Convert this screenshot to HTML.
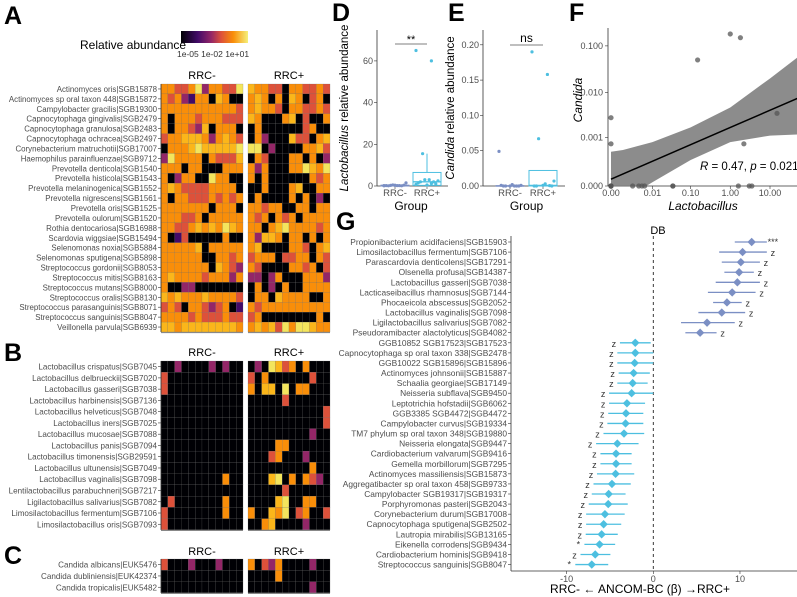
<!DOCTYPE html>
<html><head><meta charset="utf-8">
<style>
body{margin:0;background:#fff;}
svg{display:block;font-family:"Liberation Sans",sans-serif;}
.tl{font-size:8px;fill:#4d4d4d;}
.tk{font-size:9px;fill:#4d4d4d;}
.at{font-size:12px;fill:#000;}
.pl{font-size:25px;font-weight:bold;fill:#000;}
</style></head>
<body>
<svg id="fig" width="797" height="597" viewBox="0 0 797 597">
<defs>
<linearGradient id="inf" x1="0" x2="1" y1="0" y2="0">
<stop offset="0" stop-color="#000004"/><stop offset="0.25" stop-color="#420a68"/><stop offset="0.45" stop-color="#932667"/><stop offset="0.6" stop-color="#dd513a"/><stop offset="0.78" stop-color="#f98e09"/><stop offset="1" stop-color="#f5f07a"/>
</linearGradient>
<clipPath id="fclip"><rect x="608" y="28" width="189" height="158"/></clipPath>
</defs>
<text class="pl" x="4" y="24">A</text>
<text class="pl" x="4" y="361">B</text>
<text class="pl" x="4" y="564">C</text>
<text class="pl" x="332" y="21">D</text>
<text class="pl" x="448" y="21">E</text>
<text class="pl" x="569" y="21">F</text>
<text class="pl" x="336" y="230">G</text>
<g>
<text x="80" y="49" style="font-size:12px">Relative abundance</text>
<rect x="181" y="31" width="67" height="12" fill="url(#inf)"/>
<text x="177" y="57" style="font-size:8.5px;fill:#333">1e-05 1e-02 1e+01</text>
</g>
<g id="gA"></g><g id="gB"></g><g id="gC"></g><g id="gD"></g><g id="gE"></g><g id="gF"></g><g id="gG"></g>
</svg>
<script>
// ---------- data ----------
const colorLevels = ["#000004","#420a68","#932667","#dd513a","#f98e09","#fbb61a","#f3e55d"];
const taxaA = ["Actinomyces oris|SGB15878","Actinomyces sp oral taxon 448|SGB15872","Campylobacter gracilis|SGB19300","Capnocytophaga gingivalis|SGB2479","Capnocytophaga granulosa|SGB2483","Capnocytophaga ochracea|SGB2497","Corynebacterium matruchotii|SGB17007","Haemophilus parainfluenzae|SGB9712","Prevotella denticola|SGB1540","Prevotella histicola|SGB1543","Prevotella melaninogenica|SGB1552","Prevotella nigrescens|SGB1561","Prevotella oris|SGB1525","Prevotella oulorum|SGB1520","Rothia dentocariosa|SGB16988","Scardovia wiggsiae|SGB15494","Selenomonas noxia|SGB5884","Selenomonas sputigena|SGB5898","Streptococcus gordonii|SGB8053","Streptococcus mitis|SGB8163","Streptococcus mutans|SGB8000","Streptococcus oralis|SGB8130","Streptococcus parasanguinis|SGB8071","Streptococcus sanguinis|SGB8047","Veillonella parvula|SGB6939"];
const levelsA = ["443346244336544330443343","434214405400454040540340","444444444443454430443343","404443444333540004503004","404432504440040000003400","344555424543042000533045","044456555556660200004453","264444043335043000440402","444044000444424000446546","402440064400404000000434","454333344440004000450044","404433343434040000404020","444444404440443440044044","444334044444434043404444","443345454654440456444434","401300000400425540440404","444445044444450000443045","444444004434344403344043","444444405432430000443403","454444344424220240004442","400220000000040204004444","545444544443044054444004","343044323401434444444444","444434333433340000000040","554555555554454536466544"];
const taxaB = ["Lactobacillus crispatus|SGB7045","Lactobacillus delbrueckii|SGB7020","Lactobacillus gasseri|SGB7038","Lactobacillus harbinensis|SGB7136","Lactobacillus helveticus|SGB7048","Lactobacillus iners|SGB7025","Lactobacillus mucosae|SGB7088","Lactobacillus panis|SGB7094","Lactobacillus timonensis|SGB29591","Lactobacillus ultunensis|SGB7049","Lactobacillus vaginalis|SGB7098","Lentilactobacillus parabuchneri|SGB7217","Ligilactobacillus salivarius|SGB7082","Limosilactobacillus fermentum|SGB7106","Limosilactobacillus oris|SGB7093"];
const levelsB = ["002000020200020653404000","300000000000304000000300","300000000000405506044000","000000000000000003000000","000000000000000000000003","000000000000000000000003","000000000000000000000200","000000000000000044000000","000000000000000340002000","000000000000000000000400","000000000400000560404320","000000000000000003000000","030000000400000056004400","300000000400400546034003","300000000000004500002000"];
const taxaC = ["Candida albicans|EUK5476","Candida dubliniensis|EUK42374","Candida tropicalis|EUK5482"];
const levelsC = ["300020002000403240000200","000000000000000040000000","000000000000000000000200"];

const groups = ["RRC-","RRC+"];
const lactoMinus = [0.1,0.2,0.3,1.5,0.2,0.1,0.4,0.3,0.2,0.1,0.5,0.2];
const lactoPlus = [65,60,15.5,2.5,3,2,1,0.5,1.5,2,3,0.8,1.2];
const lactoBox = [[0,0.15,0.4,1.2],[0.3,2,6.5,15.5]]; // q1, median, q3, upper whisker
const candMinus = [0.049,0,0,0.001,0.002,0,0,0,0.001,0];
const candPlus = [0.19,0.158,0.067,0.007,0.003,0,0,0.001,0,0.0005];
const candBox = [[0,0,0.0005,0.002],[0,0.0008,0.022,0.022]];

const fX = [0,0,0.15,1.0,1.8,60,70,15,2.2,0,0,0.0025,0.004,0.005,0.006,0.035,0.035,1.6,3,3.5,0,0];
const fY = [0.0028,0.0007,0.05,0.18,0.15,0.065,0.007,0.0035,0.0007,0,0,0,0,0,0,0,0,0,0,0,0,0];
const fLineX = [0,70];
const fLineY = [0.00004,0.0085];
const fBandX = [0,0.001,0.01,0.1,1,10,70];
const fBandHi = [0.00044,0.00049,0.00077,0.0017,0.0047,0.02,0.0714];
const fBandLo = [0,0,0.00002,0.00026,0.00077,0.0011,0.00118];
const fYTicks = [0,0.001,0.01,0.1];
const fYTickLabels = ["0.000","0.001","0.010","0.100"];
const fXTicks = [0,0.01,0.1,1,10];
const fXTickLabels = ["0.00","0.01","0.10","1.00","10.00"];

const taxaG = ["Propionibacterium acidifaciens|SGB15903","Limosilactobacillus fermentum|SGB7106","Parascardovia denticolens|SGB17291","Olsenella profusa|SGB14387","Lactobacillus gasseri|SGB7038","Lacticaseibacillus rhamnosus|SGB7144","Phocaeicola abscessus|SGB2052","Lactobacillus vaginalis|SGB7098","Ligilactobacillus salivarius|SGB7082","Pseudoramibacter alactolyticus|SGB4082","GGB10852 SGB17523|SGB17523","Capnocytophaga sp oral taxon 338|SGB2478","GGB10022 SGB15896|SGB15896","Actinomyces johnsonii|SGB15887","Schaalia georgiae|SGB17149","Neisseria subflava|SGB9450","Leptotrichia hofstadii|SGB6062","GGB3385 SGB4472|SGB4472","Campylobacter curvus|SGB19334","TM7 phylum sp oral taxon 348|SGB19880","Neisseria elongata|SGB9447","Cardiobacterium valvarum|SGB9416","Gemella morbillorum|SGB7295","Actinomyces massiliensis|SGB15873","Aggregatibacter sp oral taxon 458|SGB9733","Campylobacter SGB19317|SGB19317","Porphyromonas pasteri|SGB2043","Corynebacterium durum|SGB17008","Capnocytophaga sputigena|SGB2502","Lautropia mirabilis|SGB13165","Eikenella corrodens|SGB9434","Cardiobacterium hominis|SGB9418","Streptococcus sanguinis|SGB8047"];
const betaG = [11.35,10.3,10.1,9.9,9.7,9.1,8.5,7.9,6.2,5.4,-2.08,-2.08,-2.15,-2.27,-2.38,-2.5,-3.04,-3.15,-3.2,-3.38,-4.15,-4.3,-4.3,-4.35,-4.77,-5.15,-5.2,-5.58,-5.73,-5.96,-6.2,-6.7,-7.1];
const loG = [9.4,7.6,7.9,8.2,7.2,6.3,6.9,5.2,3.2,3.7,-3.85,-4.15,-4.15,-4.0,-4.15,-5.1,-5.1,-5.2,-5.3,-5.75,-6.6,-6.1,-6.1,-6.5,-6.9,-7.1,-7.45,-7.75,-7.75,-7.8,-7.95,-8.4,-9.0];
const hiG = [13.1,13.1,12.3,11.6,12.3,11.8,10.2,10.6,9.4,7.3,-0.3,0,0,-0.4,-0.65,0,-0.95,-1.15,-1.15,-1.05,-1.7,-2.5,-2.5,-2.2,-2.6,-3.2,-2.95,-3.3,-3.7,-4.1,-4.4,-4.95,-5.2];
const sigG = ["***","z","z","z","z","z","z","z","z","z","z","z","z","z","z","z","z","z","z","z","z","z","z","z","z","z","z","z","z","z","*","z","*"];
const gTicks = [-10,0,10];

// ---------- helpers ----------
const NS = "http://www.w3.org/2000/svg";
function mk(parent, tag, attrs, txt){
  const e = document.createElementNS(NS, tag);
  for (const k in attrs) e.setAttribute(k, attrs[k]);
  if (txt !== undefined) e.textContent = txt;
  parent.appendChild(e);
  return e;
}

// ---------- heatmaps ----------
function heatmap(g, taxa, levels, top, rowH, headerY, name, fs){
  const x1 = 161, x2 = 248, cw = 6.83;
  groups.forEach((gr, gi) => {
    const hx = (gi ? x2 : x1) + 41;
    const h = mk(g, "text", {x:hx, y:headerY, "text-anchor":"middle", style:"font-size:11px"}, gr);
    
    
  });
  taxa.forEach((t, r) => {
    const y = top + r * rowH;
    const lab = mk(g, "text", {x:157, y:y + rowH/2 + 3, "text-anchor":"end", class:"tl", style:"font-size:"+fs+"px"}, t);
    
    
    mk(g, "line", {x1:158, x2:161, y1:y+rowH/2, y2:y+rowH/2, stroke:"#333", "stroke-width":0.6});
    const row = levels[r];
    for (let c = 0; c < 24; c++){
      const x = (c < 12 ? x1 + c*cw : x2 + (c-12)*cw);
      const cell = mk(g, "rect", {x:x, y:y, width:cw+0.05, height:rowH+0.05, fill:colorLevels[+row[c]], stroke:"#6a6a6a", "stroke-width":0.2});
      
      
    }
  });
  const bottom = top + taxa.length*rowH;
  mk(g, "line", {x1:161, x2:161, y1:top, y2:bottom, stroke:"#333", "stroke-width":0.8});
  mk(g, "line", {x1:161, x2:243, y1:bottom+0.5, y2:bottom+0.5, stroke:"#888", "stroke-width":1.2});
  mk(g, "line", {x1:248, x2:330, y1:bottom+0.5, y2:bottom+0.5, stroke:"#888", "stroke-width":1.2});
}
heatmap(document.getElementById("gA"), taxaA, levelsA, 84, 9.92, 79, "heatmap-a", 7.9);
heatmap(document.getElementById("gB"), taxaB, levelsB, 361, 11.26, 356, "heatmap-b", 8.1);
heatmap(document.getElementById("gC"), taxaC, levelsC, 559, 11.3, 555, "heatmap-c", 8.1);

// ---------- box plots ----------
const grpCol = ["#7b8fc4","#4dbfe0"];
function boxPanel(g, axX, xs, yScale, ticks, tickLabs, minusPts, plusPts, box, sig, sigY, title, italic, xEnd, name){
  const y0 = 186;
  mk(g, "line", {x1:axX, x2:axX, y1:30, y2:y0, stroke:"#333", "stroke-width":0.8});
  mk(g, "line", {x1:axX, x2:xEnd, y1:y0, y2:y0, stroke:"#333", "stroke-width":0.8});
  ticks.forEach((t, i) => {
    const y = yScale(t);
    mk(g, "line", {x1:axX-3, x2:axX, y1:y, y2:y, stroke:"#333", "stroke-width":0.6});
    const tl = mk(g, "text", {x:axX-4, y:y+3, "text-anchor":"end", class:"tk"}, tickLabs[i]);
    
    
  });
  groups.forEach((gr, gi) => {
    mk(g, "line", {x1:xs[gi], x2:xs[gi], y1:y0, y2:y0+3, stroke:"#333", "stroke-width":0.6});
    const tl = mk(g, "text", {x:xs[gi], y:196, "text-anchor":"middle", class:"tk", style:"font-size:9.5px"}, gr);
    
    
    const b = box[gi];
    mk(g, "line", {x1:xs[gi], x2:xs[gi], y1:yScale(b[2]), y2:yScale(b[3]), stroke:grpCol[gi], "stroke-width":1});
    const bx = mk(g, "rect", {x:xs[gi]-14, y:yScale(b[2]), width:28, height:Math.max(0.5, yScale(b[0])-yScale(b[2])), fill:"none", stroke:grpCol[gi], "stroke-width":1});
    
    
    mk(g, "line", {x1:xs[gi]-14, x2:xs[gi]+14, y1:yScale(b[1]), y2:yScale(b[1]), stroke:grpCol[gi], "stroke-width":1.3});
    const pts = gi ? plusPts : minusPts;
    pts.forEach((v, i) => {
      const off = ((i * 7) % 11 - 5) * 2.2;
      const p = mk(g, "circle", {cx:xs[gi]+off, cy:yScale(v), r:1.6, fill:grpCol[gi]});
      
      
    });
  });
  mk(g, "line", {x1:xs[0], x2:xs[1], y1:sigY, y2:sigY, stroke:"#555", "stroke-width":0.8});
  const s = mk(g, "text", {x:(xs[0]+xs[1])/2, y:sigY-(sig==="ns"?3:1), "text-anchor":"middle", style:"font-size:"+(sig==="ns"?"12px":"11px")}, sig);
  
  
  const gx = mk(g, "text", {x:(xs[0]+xs[1])/2, y:210, "text-anchor":"middle", class:"at"}, "Group");
  
  
  const yt = mk(g, "text", {transform:"translate("+(axX-29)+",108) rotate(-90)", "text-anchor":"middle", class:"at", style:"font-size:11.5px"});
  
  
  mk(yt, "tspan", {"font-style":"italic"}, italic);
  mk(yt, "tspan", {}, title);
}
boxPanel(document.getElementById("gD"), 377, [395,427], v => 186 - v*2.085, [0,20,40,60], ["0","20","40","60"], lactoMinus, lactoPlus, lactoBox, "**", 44, " relative abundance", "Lactobacillus", 448, "panel-d");
boxPanel(document.getElementById("gE"), 483, [510,543], v => 186 - v*706, [0,0.05,0.1,0.15,0.2], ["0.00","0.05","0.10","0.15","0.20"], candMinus, candPlus, candBox, "ns", 45, " relative abundance", "Candida", 565, "panel-e");

// ---------- scatter F ----------
(function(){
  const g = document.getElementById("gF");
  const fx = v => 611 + Math.log10((v + 0.001)/0.001) * 39.75;
  const fy = v => 186 - Math.log10((v + 0.0001)/0.0001) * 46.7;
  mk(g, "line", {x1:608, x2:608, y1:28, y2:186, stroke:"#333", "stroke-width":0.8});
  mk(g, "line", {x1:608, x2:797, y1:186, y2:186, stroke:"#333", "stroke-width":0.8});
  fYTicks.forEach((t, i) => {
    mk(g, "line", {x1:605, x2:608, y1:fy(t), y2:fy(t), stroke:"#333", "stroke-width":0.6});
    const l = mk(g, "text", {x:603, y:fy(t)+3, "text-anchor":"end", class:"tk"}, fYTickLabels[i]);
    
    
  });
  fXTicks.forEach((t, i) => {
    mk(g, "line", {x1:fx(t), x2:fx(t), y1:186, y2:189, stroke:"#333", "stroke-width":0.6});
    const l = mk(g, "text", {x:fx(t), y:196, "text-anchor":"middle", class:"tk"}, fXTickLabels[i]);
    
    
  });
  let d = "";
  fBandX.forEach((x, i) => { d += (i ? "L" : "M") + fx(x) + "," + fy(fBandHi[i]); });
  for (let i = fBandX.length-1; i >= 0; i--) d += "L" + fx(fBandX[i]) + "," + (fBandLo[i] === 0 ? 200 : fy(fBandLo[i]));
  const band = mk(g, "path", {d:d+"Z", fill:"#7f7f7f", "fill-opacity":0.9, "clip-path":"url(#fclip)"});
  
  
  const ln = mk(g, "line", {x1:fx(fLineX[0]), y1:fy(fLineY[0]), x2:fx(fLineX[1]), y2:fy(fLineY[1]), stroke:"#000", "stroke-width":1.5});
  
  
  fX.forEach((x, i) => {
    const p = mk(g, "circle", {cx:fx(x), cy:fy(fY[i]), r:2.6, fill:"#555", "fill-opacity":0.75});
    
    
  });
  const r = mk(g, "text", {x:700, y:170, style:"font-size:11.5px"});
  
  
  mk(r, "tspan", {"font-style":"italic"}, "R");
  mk(r, "tspan", {}, " = 0.47, ");
  mk(r, "tspan", {"font-style":"italic"}, "p");
  mk(r, "tspan", {}, " = 0.021");
  const xt = mk(g, "text", {x:703, y:210, "text-anchor":"middle", class:"at", "font-style":"italic"}, "Lactobacillus");
  
  
  const yt = mk(g, "text", {transform:"translate(582,100) rotate(-90)", "text-anchor":"middle", class:"at", "font-style":"italic"}, "Candida");
  
  
})();

// ---------- forest plot G ----------
(function(){
  const g = document.getElementById("gG");
  const gx = v => 653.3 + v * 8.667;
  const gy = i => 242 + i * 10.08;
  mk(g, "line", {x1:511, x2:511, y1:236, y2:571, stroke:"#333", "stroke-width":0.8});
  mk(g, "line", {x1:511, x2:797, y1:571, y2:571, stroke:"#333", "stroke-width":0.8});
  mk(g, "line", {x1:gx(0), x2:gx(0), y1:236, y2:571, stroke:"#222", "stroke-width":0.9, "stroke-dasharray":"3,3"});
  const db = mk(g, "text", {x:658, y:234, "text-anchor":"middle", style:"font-size:11px"}, "DB");
  
  
  gTicks.forEach(t => {
    mk(g, "line", {x1:gx(t), x2:gx(t), y1:571, y2:574, stroke:"#333", "stroke-width":0.6});
    const l = mk(g, "text", {x:gx(t), y:582, "text-anchor":"middle", class:"tk"}, String(t));
    
    
  });
  taxaG.forEach((t, i) => {
    const y = gy(i);
    const col = betaG[i] > 0 ? "#7b8fc4" : "#4dbfe0";
    const l = mk(g, "text", {x:507, y:y+3, "text-anchor":"end", class:"tl", style:"font-size:8.4px"}, t);
    
    
    mk(g, "line", {x1:508, x2:511, y1:y, y2:y, stroke:"#333", "stroke-width":0.6});
    const ci = mk(g, "line", {x1:gx(loG[i]), x2:gx(hiG[i]), y1:y, y2:y, stroke:col, "stroke-width":1.3});
    
    
    const cx = gx(betaG[i]);
    const dm = mk(g, "path", {d:"M"+cx+","+(y-4.2)+"L"+(cx+4.2)+","+y+"L"+cx+","+(y+4.2)+"L"+(cx-4.2)+","+y+"Z", fill:col});
    
    
    const sx = betaG[i] > 0 ? gx(hiG[i]) + 6 : gx(loG[i]) - 6;
    const s = mk(g, "text", {x:sx, y:y+(sigG[i]==="z"?4:3), "text-anchor":"middle", style:"font-size:9px;fill:#333"}, sigG[i]);
    
    
  });
  const xt = mk(g, "text", {x:640, y:593, "text-anchor":"middle", class:"at"}, "RRC- \u2190 ANCOM-BC (\u03b2) \u2192RRC+");
  
  
})();
</script>
</body></html>
